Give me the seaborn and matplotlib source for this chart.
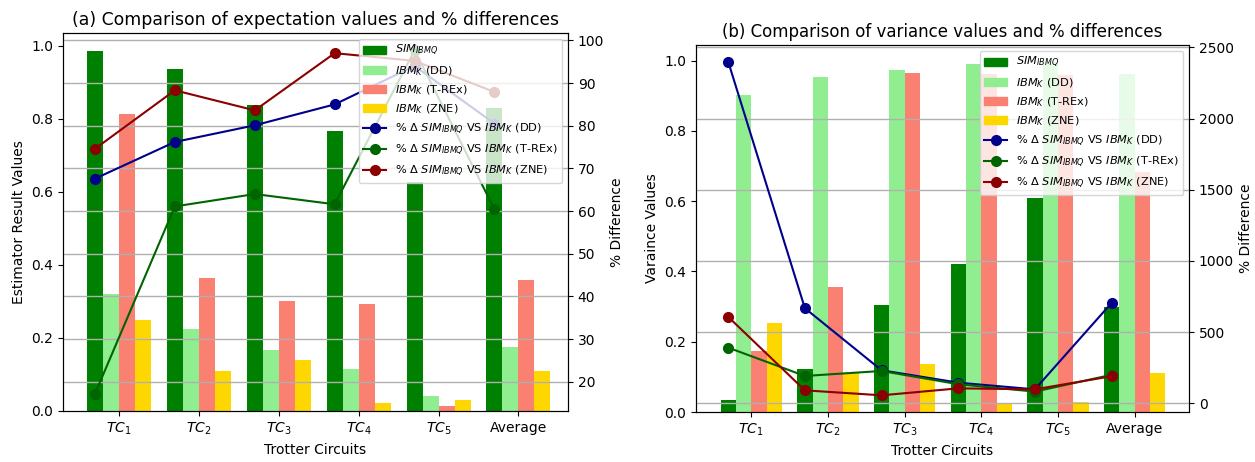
import numpy as np
import pandas as pd
import matplotlib
matplotlib.use("Agg")
import matplotlib.pyplot as plt
import seaborn as sns
from matplotlib.ticker import MultipleLocator

# ---------------- data ----------------
categories = ["$TC_1$", "$TC_2$", "$TC_3$", "$TC_4$", "$TC_5$", "Average"]
series_names = ["$SIM_{IBMQ}$", "$IBM_K$ (DD)", "$IBM_K$ (T-REx)", "$IBM_K$ (ZNE)"]
line_names = ["% Δ $SIM_{IBMQ}$ VS $IBM_K$ (DD)",
              "% Δ $SIM_{IBMQ}$ VS $IBM_K$ (T-REx)",
              "% Δ $SIM_{IBMQ}$ VS $IBM_K$ (ZNE)"]

exp_sim = [0.985, 0.936, 0.838, 0.765, 0.626, 0.830]
exp_dd = [0.319, 0.224, 0.168, 0.116, 0.040, 0.175]
exp_trex = [0.813, 0.365, 0.300, 0.292, 0.014, 0.358]
exp_zne = [0.250, 0.109, 0.139, 0.023, 0.029, 0.110]

exp_pct_dd = [67.6, 76.2, 80.1, 85.0, 94.0, 80.5]
exp_pct_trex = [17.2, 61.1, 64.0, 61.6, 97.7, 60.4]
exp_pct_zne = [74.6, 88.3, 83.6, 97.0, 95.2, 87.9]

var_sim = [0.035, 0.123, 0.304, 0.422, 0.609, 0.299]
var_dd = [0.902, 0.953, 0.973, 0.990, 0.995, 0.963]
var_trex = [0.175, 0.357, 0.966, 0.961, 0.960, 0.684]
var_zne = [0.252, 0.111, 0.138, 0.026, 0.029, 0.111]

var_pct_dd = [2400, 668, 232, 145, 98, 705]
var_pct_trex = [391, 192, 227, 134, 82, 200]
var_pct_zne = [607, 91, 56, 105, 98, 190]

bar_colors = ["green", "lightgreen", "salmon", "gold"]
line_colors = ["darkblue", "darkgreen", "darkred"]


def panel(rect, bars, pcts, title, ylabel, xlim, ystep, title_size):
    ax = fig.add_axes(rect)
    df = pd.DataFrame({
        "cat": categories * len(series_names),
        "series": np.repeat(series_names, len(categories)),
        "value": np.concatenate(bars),
    })
    sns.barplot(data=df, x="cat", y="value", hue="series", order=categories,
                hue_order=series_names, palette=bar_colors, saturation=1,
                linewidth=0, legend=False, ax=ax)
    ax.set_xlabel("Trotter Circuits")
    ax.set_ylabel(ylabel)
    ax.set_title(title, fontsize=title_size)

    ax2 = ax.twinx()
    xpos = np.arange(len(categories)) - 0.3
    for vals, col, name in zip(pcts, line_colors, line_names):
        sns.lineplot(x=xpos, y=vals, color=col, marker="o", markersize=7,
                     markeredgecolor=col, markeredgewidth=1, linewidth=1.5,
                     label=name, ax=ax2, legend=False)
    ax2.set_ylabel("% Difference")
    ax2.yaxis.set_major_locator(MultipleLocator(ystep))
    ax2.grid(True, axis="y", color="#b0b0b0", linewidth=1)
    ax.set_xlim(*xlim)
    ax2.set_xlim(*xlim)

    h1 = [plt.Rectangle((0, 0), 1, 1, color=c) for c in bar_colors]
    h2 = [plt.Line2D([], [], color=c, marker="o", markersize=7, linewidth=1.5) for c in line_colors]
    ax2.legend(h1 + h2, series_names + line_names, loc="upper right", fontsize=8.2)
    return ax, ax2


fig = plt.figure(figsize=(12.55, 4.62), dpi=100)

panel([63 / 1255, 51 / 462, 505 / 1255, 378 / 462],
      [exp_sim, exp_dd, exp_trex, exp_zne],
      [exp_pct_dd, exp_pct_trex, exp_pct_zne],
      "(a) Comparison of expectation values and % differences",
      "Estimator Result Values", (-0.70, 5.62), 10, 12.4)

panel([696 / 1255, 50 / 462, 493 / 1255, 367 / 462],
      [var_sim, var_dd, var_trex, var_zne],
      [var_pct_dd, var_pct_trex, var_pct_zne],
      "(b) Comparison of variance values and % differences",
      "Varaince Values", (-0.72, 5.71), 500, 12)

fig.savefig("out.png", dpi=100)
